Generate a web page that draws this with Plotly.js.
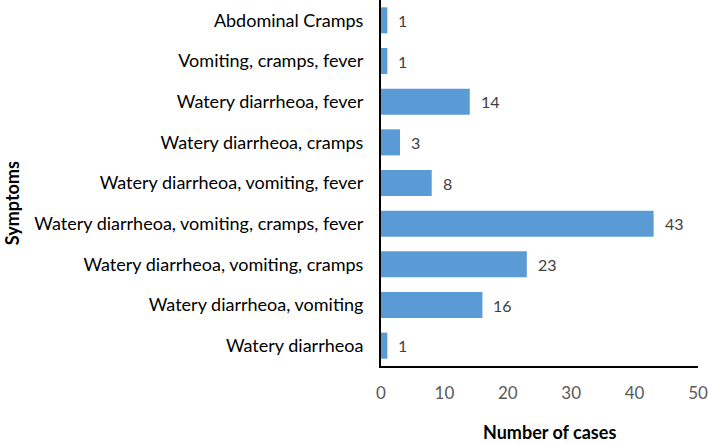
<!DOCTYPE html>
<html>
<head>
<meta charset="utf-8">
<script src="https://cdn.plot.ly/plotly-3.0.1.min.js"></script>
<style>html,body{margin:0;padding:0;background:#fff;}#chart{width:708px;height:445px;}</style>
</head>
<body>
<div id="chart"></div>
<script>
const categories = [
  "Watery diarrheoa",
  "Watery diarrheoa, vomiting",
  "Watery diarrheoa, vomiting, cramps",
  "Watery diarrheoa, vomiting, cramps, fever",
  "Watery diarrheoa, vomiting, fever",
  "Watery diarrheoa, cramps",
  "Watery diarrheoa, fever",
  "Vomiting, cramps, fever",
  "Abdominal Cramps"
];
const cases = [1, 16, 23, 43, 8, 3, 14, 1, 1];
const xTickValues = [0, 10, 20, 30, 40, 50];
const xAxisTitle = "Number of cases";
const yAxisTitle = "Symptoms";

const FONT = "Lato, 'Open Sans', sans-serif";

const trace = {
  type: "bar",
  orientation: "h",
  y: categories,
  x: cases,
  marker: {color: "#5B9BD5"},
  hoverinfo: "x+y"
};

const valueLabels = categories.map((c, i) => ({
  x: cases[i], y: c, xref: "x", yref: "y",
  text: String(cases[i]), showarrow: false,
  xanchor: "left", yanchor: "middle", xshift: 9,
  font: {family: FONT, size: 16, color: "#404040"}
}));

const layout = {
  width: 708, height: 445,
  margin: {l: 381, r: 10, t: 0, b: 79},
  paper_bgcolor: "#fff", plot_bgcolor: "#fff",
  showlegend: false,
  bargap: 0.36,
  font: {family: FONT},
  xaxis: {
    range: [0, 50],
    tickvals: xTickValues,
    showgrid: false, zeroline: false,
    showline: true, linecolor: "#000", linewidth: 2,
    ticks: "outside", ticklen: 11, tickcolor: "rgba(0,0,0,0)",
    tickfont: {family: FONT, size: 17, color: "#595959"},
    fixedrange: true
  },
  yaxis: {
    type: "category",
    showgrid: false, zeroline: false,
    showline: true, linecolor: "#000", linewidth: 2,
    ticks: "outside", ticklen: 12, tickcolor: "rgba(0,0,0,0)",
    tickfont: {family: FONT, size: 18, color: "#000"},
    fixedrange: true
  },
  annotations: valueLabels.concat([
    {text: "<b>" + yAxisTitle + "</b>", xref: "paper", yref: "paper",
     x: -1.164, y: 0.445, xanchor: "center", yanchor: "middle",
     textangle: -90, showarrow: false,
     font: {family: FONT, size: 18, color: "#000"}},
    {text: "<b>" + xAxisTitle + "</b>", xref: "paper", yref: "paper",
     x: 0.533, y: -0.18, xanchor: "center", yanchor: "middle",
     showarrow: false,
     font: {family: FONT, size: 18, color: "#000"}}
  ])
};

Plotly.newPlot("chart", [trace], layout, {displayModeBar: false, staticPlot: true});
</script>
</body>
</html>
